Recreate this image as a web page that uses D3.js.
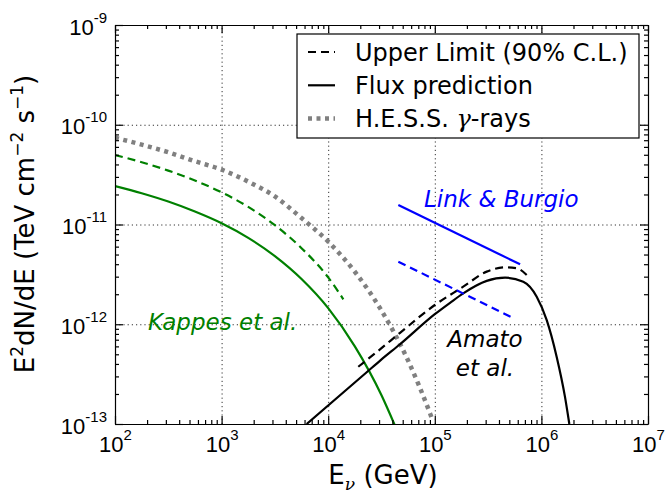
<!DOCTYPE html>
<html lang="en">
<head>
<meta charset="utf-8">
<title>Neutrino flux</title>
<script src="https://d3js.org/d3.v7.min.js"></script>
<style>
  body { margin: 0; background: #fff; }
  svg { display: block; font-family: "DejaVu Sans", sans-serif; }
  .axis path, .axis line { stroke: #000; stroke-width: 1.2; }
  .grid line { stroke: #333; stroke-width: 1; stroke-dasharray: 1.2,3; }
  .grid path { display: none; }
</style>
</head>
<body>
<svg id="chart" width="668" height="493"></svg>
<script>
// decades and tick label exponents
const xMajor = [1e2, 1e3, 1e4, 1e5, 1e6, 1e7];
const xTickExp = ["2", "3", "4", "5", "6", "7"];
const yMajor = [1e-13, 1e-12, 1e-11, 1e-10, 1e-9];
const yTickExp = ["-13", "-12", "-11", "-10", "-9"];

// [E (GeV), E^2 dN/dE]
const kappesFlux = [[100, 2.43e-11], [178, 2.06e-11], [316, 1.70e-11], [562, 1.35e-11], [1000, 1.03e-11],
  [1778, 7.35e-12], [3162, 4.82e-12], [5623, 2.84e-12], [10000, 1.45e-12], [17780, 6.0e-13],
  [31620, 1.94e-13], [42170, 9.7e-14]];
const kappesUL = [[100, 4.97e-11], [178, 4.21e-11], [316, 3.47e-11], [562, 2.76e-11], [1000, 2.10e-11],
  [1778, 1.50e-11], [3162, 9.84e-12], [5623, 5.79e-12], [10000, 2.95e-12], [13870, 1.78e-12]];
const hessGamma = [[100, 7.41e-11], [178, 6.32e-11], [316, 5.30e-11], [562, 4.31e-11], [1000, 3.55e-11],
  [1778, 2.69e-11], [3162, 1.91e-11], [5623, 1.16e-11], [10000, 6.73e-12], [17780, 3.36e-12],
  [31620, 1.37e-12], [56230, 4.31e-13], [90160, 1.28e-13], [94200, 1.13e-13]];
const amatoFlux = [[6280, 1.0e-13], [22960, 3.3e-13], [30900, 4.35e-13], [47200, 6.3e-13], [100000, 1.26e-12],
  [139000, 1.64e-12], [184900, 2.04e-12], [306900, 2.72e-12], [456000, 2.93e-12], [676000, 2.67e-12],
  [903600, 1.89e-12], [1122000, 1.10e-12], [1390000, 4.73e-13], [1663000, 1.88e-13], [1828000, 1.0e-13]];
const amatoUL = [[19150, 3.75e-13], [30620, 5.6e-13], [47200, 8.2e-13], [100000, 1.56e-12], [184900, 2.38e-12],
  [306900, 3.37e-12], [456000, 3.72e-12], [586100, 3.64e-12], [727800, 3.12e-12]];
const linkFlux = [[45500, 1.567e-11], [631000, 3.99e-12]];
const linkUL = [[45500, 4.24e-12], [545800, 1.15e-12]];

const legendItems = ["Upper Limit (90% C.L.)", "Flux prediction", "H.E.S.S. γ-rays"];

const margin = { top: 25, right: 20, bottom: 69, left: 115 };
const W = 668, H = 493;
const width = W - margin.left - margin.right;
const height = H - margin.top - margin.bottom;

const svg = d3.select("#chart");
const g = svg.append("g").attr("transform", `translate(${margin.left},${margin.top})`);

const x = d3.scaleLog().domain([1e2, 1e7]).range([0, width]);
const y = d3.scaleLog().domain([1e-13, 1e-9]).range([height, 0]);

const xMinor = x.ticks().filter(v => !xMajor.includes(v));
const yMinor = y.ticks().filter(v => !yMajor.some(m => Math.abs(m - v) / m < 1e-6));

// grid
g.append("g").attr("class", "grid").attr("transform", `translate(0,${height})`)
  .call(d3.axisBottom(x).tickValues(xMajor.slice(1, -1)).tickSize(-height).tickFormat(""));
g.append("g").attr("class", "grid")
  .call(d3.axisLeft(y).tickValues(yMajor.slice(1, -1)).tickSize(-width).tickFormat(""));

// curves
g.append("clipPath").attr("id", "clip").append("rect").attr("width", width).attr("height", height);
const line = d3.line().x(d => x(d[0])).y(d => y(d[1])).curve(d3.curveMonotoneX);
const plot = g.append("g").attr("clip-path", "url(#clip)");

function curve(data, color, w, dash) {
  plot.append("path").datum(data).attr("d", line)
    .attr("fill", "none").attr("stroke", color).attr("stroke-width", w)
    .attr("stroke-dasharray", dash || null);
}
curve(hessGamma, "#808080", 4.5, "4,4.5");
curve(kappesFlux, "#008000", 2.2);
curve(kappesUL, "#008000", 2.2, "8,5");
curve(amatoFlux, "#000", 2.2);
curve(amatoUL, "#000", 2.2, "8,5");
curve(linkFlux, "#0000ff", 2.2);
curve(linkUL, "#0000ff", 2.2, "8,5");

// axes: inward ticks on all sides
function axisPair(axisGen, major, minor, tr) {
  const a = g.append("g").attr("class", "axis").attr("transform", tr || null);
  a.call(axisGen.tickValues(major).tickSize(-8).tickSizeOuter(0).tickFormat(""));
  const b = g.append("g").attr("class", "axis").attr("transform", tr || null);
  b.call(axisGen.tickValues(minor).tickSize(-4).tickSizeOuter(0).tickFormat(""));
  b.select(".domain").remove();
  return a;
}
const xb = axisPair(d3.axisBottom(x), xMajor, xMinor, `translate(0,${height})`);
axisPair(d3.axisTop(x), xMajor, xMinor);
const yl = axisPair(d3.axisLeft(y), yMajor, yMinor);
axisPair(d3.axisRight(y), yMajor, yMinor, `translate(${width},0)`);

// tick labels
xb.selectAll(".tick").each(function (d, i) {
  const t = d3.select(this).append("text").attr("y", 28).attr("fill", "#000")
    .attr("text-anchor", "middle").style("font-size", "22px");
  t.append("tspan").text("10");
  t.append("tspan").attr("dy", -12).style("font-size", "15px").text(xTickExp[i]);
});
yl.selectAll(".tick").each(function (d, i) {
  const t = d3.select(this).append("text").attr("x", -8).attr("y", 9).attr("fill", "#000")
    .attr("text-anchor", "end").style("font-size", "22px");
  t.append("tspan").text("10");
  t.append("tspan").attr("dy", -12).style("font-size", "15px").text(yTickExp[i]);
});

// axis titles
const xt = svg.append("text").attr("x", 383).attr("y", 484).attr("text-anchor", "middle")
  .style("font-size", "26px");
xt.append("tspan").text("E");
xt.append("tspan").attr("dy", 6).style("font-size", "17px").style("font-family", "DejaVu Serif")
  .style("font-style", "italic").text("ν");
xt.append("tspan").attr("dy", -6).text(" (GeV)");

const yt = svg.append("text").attr("transform", "translate(34,224) rotate(-90)")
  .attr("text-anchor", "middle").style("font-size", "26px");
yt.append("tspan").text("E");
yt.append("tspan").attr("dy", -11).style("font-size", "17px").text("2");
yt.append("tspan").attr("dy", 11).text("dN/dE (TeV cm");
yt.append("tspan").attr("dy", -11).style("font-size", "17px").text("−2");
yt.append("tspan").attr("dy", 11).text(" s");
yt.append("tspan").attr("dy", -11).style("font-size", "17px").text("−1");
yt.append("tspan").attr("dy", 11).text(")");

// annotations
svg.append("text").attr("x", 148).attr("y", 330).attr("fill", "#008000")
  .style("font-size", "23px").style("font-style", "italic").text("Kappes et al.");
svg.append("text").attr("x", 424).attr("y", 207).attr("fill", "#0000ff")
  .style("font-size", "23px").style("font-style", "italic").text("Link & Burgio");
svg.append("text").attr("x", 485).attr("y", 347).attr("text-anchor", "middle")
  .style("font-size", "23px").style("font-style", "italic").text("Amato");
svg.append("text").attr("x", 485).attr("y", 376).attr("text-anchor", "middle")
  .style("font-size", "23px").style("font-style", "italic").text("et al.");

// legend
const lg = svg.append("g").attr("transform", "translate(297,34)");
lg.append("rect").attr("width", 342).attr("height", 104).attr("fill", "#fff")
  .attr("stroke", "#000").attr("stroke-width", 1.2);
const legendStyle = [["#000", 2.2, "8,5"], ["#000", 2.2, null], ["#808080", 4.5, "4,4.5"]];
legendItems.forEach((txt, i) => {
  const cy = 18 + i * 33.3;
  lg.append("line").attr("x1", 11).attr("x2", 38).attr("y1", cy).attr("y2", cy)
    .attr("stroke", legendStyle[i][0]).attr("stroke-width", legendStyle[i][1])
    .attr("stroke-dasharray", legendStyle[i][2]);
  const t = lg.append("text").attr("x", 58).attr("y", cy + 8.5).style("font-size", "24px");
  if (i === 2) {
    t.append("tspan").text("H.E.S.S. ");
    t.append("tspan").style("font-family", "DejaVu Serif").style("font-style", "italic").text("γ");
    t.append("tspan").text("-rays");
  } else {
    t.text(txt);
  }
});
</script>
</body>
</html>
